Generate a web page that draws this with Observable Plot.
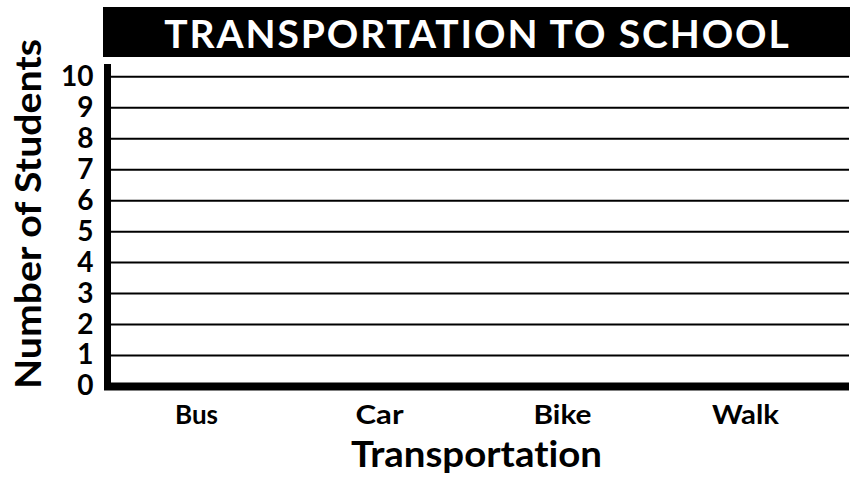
<!DOCTYPE html>
<html><head><meta charset="utf-8">
<script src="https://cdn.jsdelivr.net/npm/d3@7"></script>
<script src="https://cdn.jsdelivr.net/npm/@observablehq/plot@0.6"></script>
<style>
html,body{margin:0;padding:0;background:#fff;}
body{width:857px;height:487px;position:relative;overflow:hidden;font-family:Lato,"Open Sans",sans-serif;font-variant-ligatures:none;}
#chart{position:absolute;left:0;top:0;}
#title{position:absolute;left:103px;top:7px;width:747px;height:50px;background:#000;color:#fff;font-weight:bold;font-size:39px;line-height:52px;text-align:center;white-space:nowrap;letter-spacing:1.9px;padding-left:2px;box-sizing:border-box;z-index:2;}
#chart svg{overflow:visible;}
#chart svg text{font-variant-ligatures:none;}
</style></head><body>
<div id="chart"></div><div id="title"></div>
<script>
const title = "TRANSPORTATION TO SCHOOL";
const categories = ["Bus", "Car", "Bike", "Walk"];
const yTicks = [0, 1, 2, 3, 4, 5, 6, 7, 8, 9, 10];
const xLabel = "Transportation";
const yLabel = "Number of Students";

// rendered text widths (px), used as textLength
const textWidths = {"Bus": 43, "Car": 48, "Bike": 58, "Walk": 67, "Transportation": 251, "Number of Students": 350};

document.getElementById("title").textContent = title;

const font = "Lato, 'Open Sans', sans-serif";
const chart = Plot.plot({
  width: 857, height: 487,
  marginTop: 67, marginLeft: 107, marginRight: 8, marginBottom: 101,
  style: {fontFamily: font, fontWeight: "bold", background: "#fff", color: "#000"},
  x: {type: "point", domain: categories, padding: 0.52, align: 0.46, label: null},
  y: {domain: [0, 10.3], label: null},
  marks: [
    Plot.ruleY(yTicks.filter(d => d > 0), {stroke: "#000", strokeWidth: 2}),
    Plot.ruleY([0], {stroke: "#000", strokeWidth: 8, insetLeft: -3}),
    Plot.frame({anchor: "left", stroke: "#000", strokeWidth: 7}),
    Plot.axisY({ticks: yTicks, tickSize: 0, tickPadding: 14, fontSize: 28, fontWeight: "bold", label: null}),
    Plot.axisX({tickSize: 0, tickPadding: 19, fontSize: 26, fontWeight: "bold", label: null}),
    Plot.text([yLabel], {frameAnchor: "left", rotate: -90, dx: -78, dy: -13, fontSize: 36, fontWeight: "bold", textAnchor: "middle", lineAnchor: "middle"}),
    Plot.text([xLabel], {frameAnchor: "bottom", dx: -2, dy: 54, fontSize: 37, fontWeight: "bold", textAnchor: "middle", lineAnchor: "top"})
  ]
});
d3.select(chart).selectAll("text, tspan").each(function() {
  const t = this.textContent;
  if (t in textWidths && this.childElementCount === 0) {
    d3.select(this).attr("textLength", textWidths[t]).attr("lengthAdjust", "spacingAndGlyphs");
  }
});
document.getElementById("chart").appendChild(chart);
</script>
</body></html>
